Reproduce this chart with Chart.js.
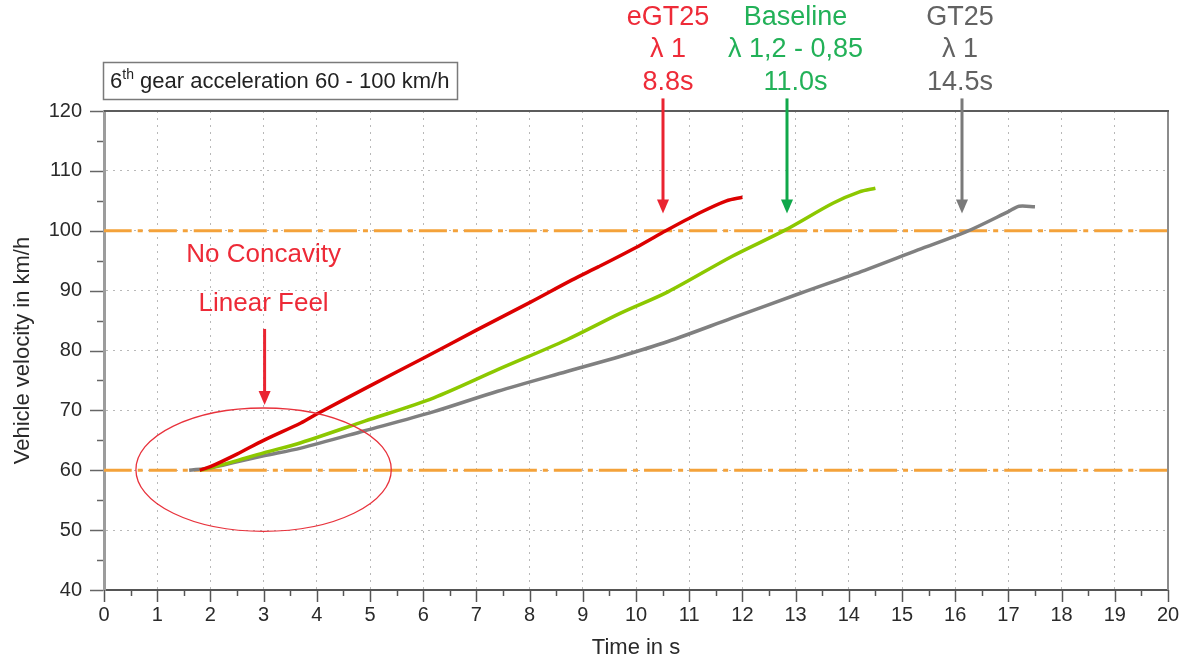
<!DOCTYPE html>
<html>
<head>
<meta charset="utf-8">
<script src="https://cdn.jsdelivr.net/npm/chart.js@4.4.1/dist/chart.umd.min.js"></script>
<style>
  html, body { margin: 0; padding: 0; background: #fff; }
  #wrap { width: 1183px; height: 662px; position: relative; }
</style>
</head>
<body>
<div id="wrap"><canvas id="c"></canvas></div>
<script>
const FONT = "'Liberation Sans', Arial, sans-serif";

// Traces: time in s, vehicle velocity in km/h
const egt25Time  = [1.8, 2.0, 2.5, 3.0, 3.7, 4.0, 5.0, 6.0, 7.0, 8.0, 8.8, 9.3, 10.0, 10.5, 11.2, 11.7, 12.0];
const egt25Speed = [60.0, 60.6, 62.7, 65.0, 67.9, 69.4, 74.1, 78.7, 83.4, 88.0, 91.8, 94.0, 97.2, 99.7, 103.0, 105.0, 105.6];

const baseTime  = [1.8, 2.0, 2.5, 3.0, 3.7, 4.9, 6.2, 7.4, 8.7, 9.7, 10.6, 11.8, 12.8, 13.7, 14.2, 14.5];
const baseSpeed = [60.0, 60.4, 61.6, 62.9, 64.6, 68.2, 72.1, 76.8, 81.8, 86.2, 89.8, 95.7, 100.1, 104.6, 106.5, 107.1];

const gt25Time  = [1.6, 2.0, 2.5, 3.0, 3.7, 4.9, 6.2, 7.4, 8.7, 9.7, 10.6, 11.8, 13.1, 14.3, 15.3, 16.2, 17.0, 17.2, 17.5];
const gt25Speed = [60.0, 60.4, 61.4, 62.4, 63.7, 66.6, 69.8, 73.2, 76.5, 79.0, 81.5, 85.4, 89.6, 93.4, 96.8, 99.8, 103.2, 104.1, 104.0];

// 60 and 100 km/h limits of the measurement
const limitSpeeds = [60, 100];
const timeRange = [0, 20];
const speedRange = [40, 120];

// callouts above the plot: label lines, x of text, x of arrow
const calloutLines = [["eGT25", "λ 1", "8.8s"], ["Baseline", "λ 1,2 - 0,85", "11.0s"], ["GT25", "λ 1", "14.5s"]];
const calloutTextT = [10.6, 13.0, 16.09];
const calloutArrowT = [10.5, 12.84, 16.13];
const calloutColors = ["#ee2b38", "#22b158", "#626262"];
const calloutArrowColors = ["#ea2431", "#10a84a", "#7a7a7a"];

function pts(xs, ys) {
  return xs.map((x, i) => ({ x: x, y: ys[i] }));
}

function limitLine(v) {
  return {
    data: pts(timeRange, [v, v]),
    borderColor: "#f4a23a",
    borderWidth: 3,
    borderDash: [28, 6, 5, 6],
    pointRadius: 0,
    order: 5,
  };
}

function arrowDown(ctx, x, y1, y2, color, w) {
  const head = 14;
  ctx.strokeStyle = color;
  ctx.fillStyle = color;
  ctx.lineWidth = w;
  ctx.beginPath();
  ctx.moveTo(x, y1);
  ctx.lineTo(x, y2 - head + 2);
  ctx.stroke();
  ctx.beginPath();
  ctx.moveTo(x - 6, y2 - head);
  ctx.lineTo(x + 6, y2 - head);
  ctx.lineTo(x, y2);
  ctx.closePath();
  ctx.fill();
}

const frame = {
  id: "frame",
  beforeDatasetsDraw(chart) {
    const { ctx, chartArea: a } = chart;
    ctx.save();
    ctx.lineWidth = 2;
    ctx.strokeStyle = "#8c8c8c";
    ctx.beginPath();
    ctx.moveTo(a.right, a.top);
    ctx.lineTo(a.right, a.bottom);
    ctx.stroke();
    ctx.strokeStyle = "#5c5c5c";
    ctx.beginPath();
    ctx.moveTo(a.left, a.top);
    ctx.lineTo(a.right + 1, a.top);
    ctx.stroke();
    ctx.restore();
  },
  afterDraw(chart) {
    const { ctx, chartArea: a, scales: { x, y } } = chart;
    ctx.save();

    // tick marks, major and minor
    ctx.strokeStyle = "#555";
    ctx.lineWidth = 1.5;
    for (let t = timeRange[0]; t <= timeRange[1]; t += 0.5) {
      const px = Math.round(x.getPixelForValue(t)) + 0.5;
      const len = Number.isInteger(t) ? 12 : 6;
      ctx.beginPath();
      ctx.moveTo(px, a.bottom);
      ctx.lineTo(px, a.bottom + len);
      ctx.stroke();
    }
    ctx.strokeStyle = "#666";
    for (let v = speedRange[0]; v <= speedRange[1]; v += 5) {
      const py = Math.round(y.getPixelForValue(v)) + 0.5;
      const len = v % 10 === 0 ? 13 : 6;
      ctx.beginPath();
      ctx.moveTo(a.left - 1, py);
      ctx.lineTo(a.left - 1 - len, py);
      ctx.stroke();
    }

    // marked region at the launch
    const cx = x.getPixelForValue(3.0), cy = y.getPixelForValue(60.1);
    const rx = x.getPixelForValue(5.4) - cx, ry = cy - y.getPixelForValue(70.4);
    ctx.strokeStyle = "#e8323c";
    ctx.lineWidth = 1.3;
    ctx.beginPath();
    ctx.ellipse(cx, cy, rx, ry, 0, 0, Math.PI * 2);
    ctx.stroke();

    ctx.textAlign = "center";
    ctx.textBaseline = "middle";
    ctx.fillStyle = "#ed2a37";
    ctx.font = "26px " + FONT;
    ctx.fillText("No Concavity", cx, y.getPixelForValue(96.0));
    ctx.fillText("Linear Feel", cx, y.getPixelForValue(87.8));
    arrowDown(ctx, cx + 1, y.getPixelForValue(83.6), y.getPixelForValue(70.9), "#ea2431", 3);

    // callouts over the plot
    ctx.font = "27px " + FONT;
    const lineV = [135.6, 130.2, 124.8];
    calloutLines.forEach((lines, i) => {
      ctx.fillStyle = calloutColors[i];
      const tx = x.getPixelForValue(calloutTextT[i]);
      lines.forEach((s, j) => ctx.fillText(s, tx, y.getPixelForValue(lineV[j])));
      const ax = Math.round(x.getPixelForValue(calloutArrowT[i]));
      arrowDown(ctx, ax, y.getPixelForValue(122.1), y.getPixelForValue(102.9), calloutArrowColors[i], 3);
    });

    // test condition box
    ctx.fillStyle = "#fff";
    ctx.fillRect(103, 62, 354, 37);
    ctx.strokeStyle = "#7a7a7a";
    ctx.lineWidth = 1.5;
    ctx.strokeRect(103.5, 62.5, 354, 37);
    ctx.fillStyle = "#222";
    ctx.textAlign = "left";
    ctx.textBaseline = "alphabetic";
    ctx.font = "22px " + FONT;
    ctx.fillText("6", 110, 88);
    const w6 = ctx.measureText("6").width;
    ctx.font = "14px " + FONT;
    ctx.fillText("th", 110 + w6, 79);
    const wth = ctx.measureText("th").width;
    ctx.font = "22px " + FONT;
    ctx.fillText(" gear acceleration 60 - 100 km/h", 110 + w6 + wth, 88);

    ctx.restore();
  },
};

new Chart(document.getElementById("c"), {
  type: "line",
  data: {
    datasets: [
      { label: "eGT25", data: pts(egt25Time, egt25Speed), borderColor: "#dc0000", borderWidth: 3.5, order: 1 },
      { label: "Baseline", data: pts(baseTime, baseSpeed), borderColor: "#8cc800", borderWidth: 3.5, order: 2 },
      { label: "GT25", data: pts(gt25Time, gt25Speed), borderColor: "#808080", borderWidth: 3.5, order: 3 },
      limitLine(limitSpeeds[0]),
      limitLine(limitSpeeds[1]),
    ],
  },
  options: {
    responsive: true,
    maintainAspectRatio: false,
    animation: false,
    devicePixelRatio: 1,
    layout: { padding: { top: 111, right: 15, left: 0, bottom: 0 } },
    elements: { line: { tension: 0.3 }, point: { radius: 0 } },
    plugins: { legend: { display: false }, tooltip: { enabled: false } },
    scales: {
      x: {
        type: "linear",
        min: timeRange[0],
        max: timeRange[1],
        afterFit: (s) => { s.height = 72; s.paddingLeft = 0; s.paddingRight = 0; },
        ticks: { stepSize: 1, padding: 13, color: "#2a2a2a", font: { family: FONT, size: 20 }, maxRotation: 0 },
        grid: {
          drawTicks: false,
          lineWidth: 1,
          color: (c) => (c.tick && (c.tick.value === timeRange[0] || c.tick.value === timeRange[1]) ? "rgba(0,0,0,0)" : "#b8b8b8"),
        },
        border: { color: "#555", width: 2, dash: [2, 5] },
        title: { display: true, text: "Time in s", color: "#2a2a2a", font: { family: FONT, size: 22 }, padding: { bottom: 1 } },
      },
      y: {
        type: "linear",
        min: speedRange[0],
        max: speedRange[1],
        afterFit: (s) => { s.width = 104; s.paddingTop = 0; s.paddingBottom = 0; },
        ticks: { stepSize: 10, padding: 22, color: "#2a2a2a", font: { family: FONT, size: 20 } },
        grid: {
          drawTicks: false,
          lineWidth: 1,
          color: (c) => (c.tick && (c.tick.value === speedRange[0] || c.tick.value === speedRange[1]) ? "rgba(0,0,0,0)" : "#b8b8b8"),
        },
        border: { color: "#9c9c9c", width: 3, dash: [2, 5] },
        title: { display: true, text: "Vehicle velocity in km/h", color: "#2a2a2a", font: { family: FONT, size: 22 }, padding: { top: 10 } },
      },
    },
  },
  plugins: [frame],
});
</script>
</body>
</html>
